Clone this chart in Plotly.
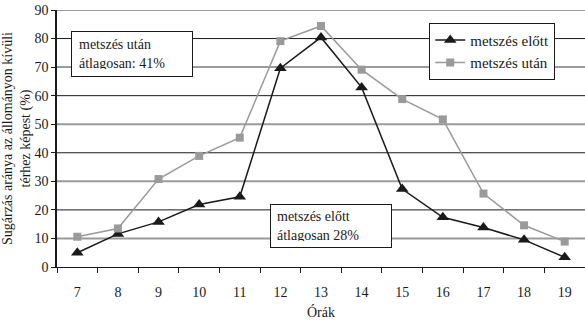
import plotly.graph_objects as go

hours = ["7", "8", "9", "10", "11", "12", "13", "14", "15", "16", "17", "18", "19"]
before_cut = [5.0, 11.6, 15.8, 21.9, 24.6, 69.6, 80.4, 62.9, 27.3, 17.4, 13.8, 9.5, 3.4]
after_cut = [10.6, 13.5, 30.8, 38.9, 45.3, 79.1, 84.4, 69.1, 58.8, 51.7, 25.7, 14.6, 8.9]
y_ticks = [0, 10, 20, 30, 40, 50, 60, 70, 80, 90]

FONT = "Liberation Serif"
GRAY = "#9a9a9a"
INK = "#1a1a1a"

fig = go.Figure()
fig.add_trace(go.Scatter(
    x=hours, y=before_cut, name="metszés előtt", mode="lines+markers",
    line=dict(color=INK, width=1.5),
    marker=dict(symbol="triangle-up", size=11, color=INK),
))
fig.add_trace(go.Scatter(
    x=hours, y=after_cut, name="metszés után", mode="lines+markers",
    line=dict(color=GRAY, width=1.5),
    marker=dict(symbol="square", size=8, color=GRAY),
))

# alternating horizontal gridlines: gray on odd tens, black on even tens
shapes = []
for v in y_ticks[1:]:
    odd = (v // 10) % 2 == 1
    shapes.append(dict(
        type="line", xref="paper", yref="y", x0=0, x1=1, y0=v, y1=v,
        line=dict(color=GRAY if odd else INK, width=2 if odd else 1),
        layer="below",
    ))

fig.update_layout(
    width=585, height=323,
    margin=dict(l=57, r=0, t=10, b=56),
    paper_bgcolor="white", plot_bgcolor="white",
    font=dict(family=FONT, size=14, color=INK),
    shapes=shapes,
    showlegend=True,
    legend=dict(
        x=0.705, y=0.95, xanchor="left", yanchor="top",
        bgcolor="white", bordercolor=INK, borderwidth=1,
        font=dict(family=FONT, size=15), tracegroupgap=0,
    ),
    xaxis=dict(
        type="category", range=[-0.5, 12.5],
        showgrid=False, zeroline=False,
        showline=True, linecolor=INK, linewidth=1,
        ticks="outside", ticklen=5, tickcolor=INK, tickson="boundaries",
        ticklabelstandoff=12,
        tickfont=dict(family=FONT, size=14),
        title=dict(text="Órák", font=dict(family=FONT, size=14), standoff=8),
    ),
    yaxis=dict(
        range=[0, 90], tickvals=y_ticks,
        showgrid=False, zeroline=False,
        showline=True, linecolor=INK, linewidth=1.5,
        ticks="outside", ticklen=4, tickcolor=INK,
        tickfont=dict(family=FONT, size=14),
        title=dict(text="Sugárzás aránya az állományon kívüli<br>térhez képest (%)",
                   font=dict(family=FONT, size=14), standoff=4),
    ),
    annotations=[
        dict(xref="x", yref="y", x=1.35, y=74.6, xanchor="center", yanchor="middle",
             text="metszés után<br>átlagosan: 41%", showarrow=False, align="left",
             bgcolor="white", bordercolor=INK, borderwidth=1,
             borderpad=7, width=106, height=30, font=dict(family=FONT, size=14)),
        dict(xref="x", yref="y", x=6.25, y=14.3, xanchor="center", yanchor="middle",
             text="metszés előtt<br>átlagosan 28%", showarrow=False, align="left",
             bgcolor="white", bordercolor=INK, borderwidth=1,
             borderpad=6, width=108, height=30, font=dict(family=FONT, size=14)),
    ],
)

fig.write_html("out.html")
